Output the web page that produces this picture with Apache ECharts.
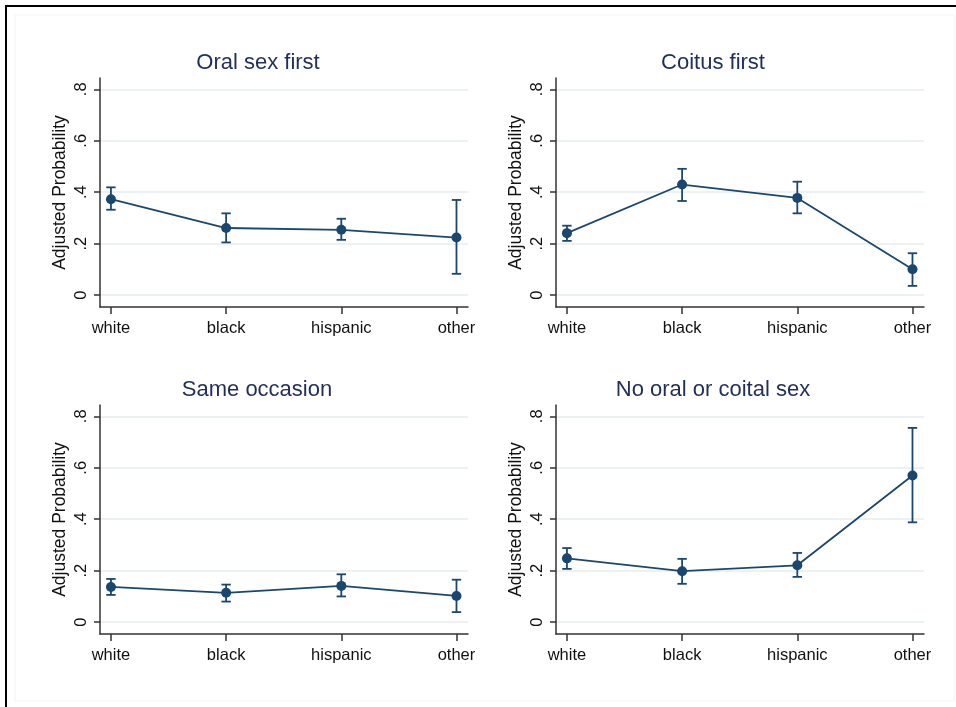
<!DOCTYPE html>
<html>
<head>
<meta charset="utf-8">
<script src="https://cdn.jsdelivr.net/npm/echarts@6/dist/echarts.min.js"></script>
<style>
html,body{margin:0;padding:0;background:#fff;}
#chart{width:956px;height:707px;}
</style>
</head>
<body>
<div id="chart"></div>
<script>
// ---- data ----
var categories = ['white', 'black', 'hispanic', 'other'];
var yTicks = [0, 0.2, 0.4, 0.6, 0.8];
var yTickLabels = ['0', '.2', '.4', '.6', '.8'];
var panelTitles = ['Oral sex first', 'Coitus first', 'Same occasion', 'No oral or coital sex'];

var oralFirstMean = [0.373, 0.261, 0.254, 0.224];
var oralFirstLow  = [0.332, 0.205, 0.215, 0.083];
var oralFirstHigh = [0.419, 0.318, 0.297, 0.370];

var coitusFirstMean = [0.241, 0.430, 0.378, 0.101];
var coitusFirstLow  = [0.211, 0.366, 0.318, 0.036];
var coitusFirstHigh = [0.270, 0.491, 0.441, 0.163];

var sameOccasionMean = [0.137, 0.114, 0.141, 0.102];
var sameOccasionLow  = [0.106, 0.080, 0.100, 0.039];
var sameOccasionHigh = [0.168, 0.146, 0.186, 0.165];

var noSexMean = [0.248, 0.198, 0.221, 0.570];
var noSexLow  = [0.207, 0.149, 0.176, 0.388];
var noSexHigh = [0.288, 0.246, 0.269, 0.755];

var panelData = [
  [oralFirstMean, oralFirstLow, oralFirstHigh],
  [coitusFirstMean, coitusFirstLow, coitusFirstHigh],
  [sameOccasionMean, sameOccasionLow, sameOccasionHigh],
  [noSexMean, noSexLow, noSexHigh]
];

// ---- layout / style ----
var FONT = '"Liberation Sans", Arial, Helvetica, sans-serif';
var NAVY = '#1a476f';
var AXIS = '#333333';
var GRIDC = '#e6eef1';
var grids = [
  {left: 100, top: 78, width: 368, height: 229},
  {left: 556, top: 78, width: 368, height: 229},
  {left: 100, top: 405, width: 368, height: 229},
  {left: 556, top: 405, width: 368, height: 229}
];
var titlePos = [[258, 62.5], [713, 62.5], [257, 389.5], [713, 389.5]];
var xPos = categories.map(function (c, i) { return i + 1; });

var option = {
  animation: false,
  backgroundColor: '#ffffff',
  textStyle: {fontFamily: FONT},
  title: panelTitles.map(function (t, i) {
    return {
      text: t, left: titlePos[i][0], top: titlePos[i][1], padding: 0,
      textAlign: 'center', textVerticalAlign: 'middle',
      textStyle: {fontFamily: FONT, fontSize: 22, fontWeight: 'normal', color: '#1f2f5a'}
    };
  }),
  grid: grids.map(function (g) {
    return {left: g.left, top: g.top, width: g.width, height: g.height, containLabel: false, show: false};
  }),
  xAxis: grids.map(function (g, i) {
    return {
      type: 'value', gridIndex: i, min: 0.905, max: 4.1,
      axisLine: {show: true, onZero: false, lineStyle: {color: AXIS, width: 1.5}},
      axisTick: {show: true, length: 7, lineStyle: {color: AXIS, width: 1.5}, customValues: xPos},
      axisLabel: {
        show: true, margin: 13, fontFamily: FONT, fontSize: 16.5, color: '#111',
        customValues: xPos,
        formatter: function (v) { return categories[Math.round(v) - 1] || ''; }
      },
      splitLine: {show: false}
    };
  }),
  yAxis: grids.map(function (g, i) {
    return {
      type: 'value', gridIndex: i, min: -0.046, max: 0.844,
      name: 'Adjusted Probability', nameLocation: 'middle', nameGap: 31, nameRotate: 90,
      nameTextStyle: {fontFamily: FONT, fontSize: 17.5, color: '#111'},
      axisLine: {show: true, onZero: false, lineStyle: {color: AXIS, width: 1.5}},
      axisTick: {show: true, length: 6, lineStyle: {color: AXIS, width: 1.5}, customValues: yTicks},
      axisLabel: {
        show: true, rotate: 90, margin: 10, fontFamily: FONT, fontSize: 16.5, color: '#111',
        customValues: yTicks,
        formatter: function (v) {
          var k = yTicks.indexOf(Math.round(v * 10) / 10);
          return k >= 0 ? yTickLabels[k] : '';
        }
      },
      splitLine: {show: true, lineStyle: {color: GRIDC, width: 1.5}}
    };
  }),
  series: []
};

panelData.forEach(function (pd, i) {
  var mean = pd[0], low = pd[1], high = pd[2];
  option.series.push({
    type: 'custom', xAxisIndex: i, yAxisIndex: i, z: 2,
    data: xPos.map(function (x, k) { return [x, low[k], high[k]]; }),
    renderItem: function (params, api) {
      var x = api.value(0);
      var pLow = api.coord([x, api.value(1)]);
      var pHigh = api.coord([x, api.value(2)]);
      var hw = 4.7;
      var st = {stroke: NAVY, lineWidth: 1.8};
      return {
        type: 'group',
        children: [
          {type: 'line', shape: {x1: pLow[0], y1: pLow[1], x2: pHigh[0], y2: pHigh[1]}, style: st},
          {type: 'line', shape: {x1: pLow[0] - hw, y1: pLow[1], x2: pLow[0] + hw, y2: pLow[1]}, style: st},
          {type: 'line', shape: {x1: pHigh[0] - hw, y1: pHigh[1], x2: pHigh[0] + hw, y2: pHigh[1]}, style: st}
        ]
      };
    }
  });
  option.series.push({
    type: 'line', xAxisIndex: i, yAxisIndex: i, z: 3,
    data: xPos.map(function (x, k) { return [x, mean[k]]; }),
    symbol: 'circle', symbolSize: 10, showAllSymbol: true,
    lineStyle: {color: NAVY, width: 1.8},
    itemStyle: {color: NAVY},
    emphasis: {disabled: true}
  });
});

option.graphic = [
  {type: 'rect', silent: true, z: -1, shape: {x: 15, y: 15, width: 939, height: 686},
   style: {fill: 'none', stroke: '#f2f5f6', lineWidth: 1}},
  {type: 'line', silent: true, shape: {x1: 5, y1: 6, x2: 956, y2: 6}, style: {stroke: '#000', lineWidth: 2}},
  {type: 'line', silent: true, shape: {x1: 6, y1: 5, x2: 6, y2: 707}, style: {stroke: '#000', lineWidth: 2}}
];

var chart = echarts.init(document.getElementById('chart'), null, {renderer: 'canvas'});
chart.setOption(option);
</script>
</body>
</html>
